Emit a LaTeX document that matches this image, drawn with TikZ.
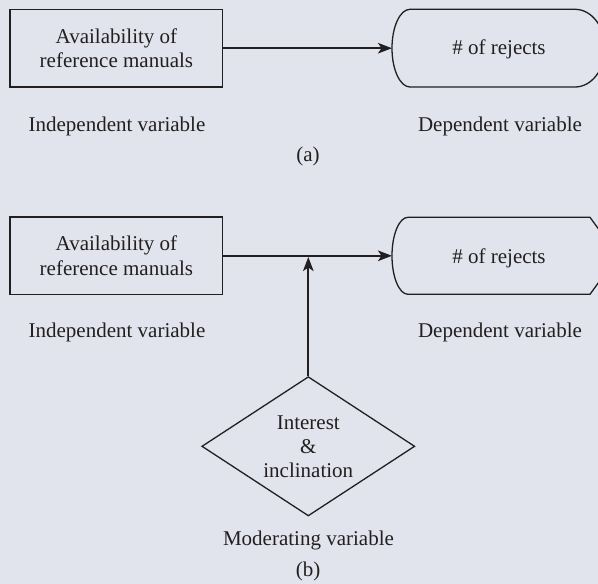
\documentclass[tikz,border=0pt]{standalone}
\usepackage{fontspec}
\setmainfont{Liberation Serif}
\usetikzlibrary{arrows.meta,shapes.geometric}
\definecolor{bg}{RGB}{225,228,236}
\definecolor{ink}{RGB}{35,31,32}
\begin{document}
\begin{tikzpicture}[x=1pt,y=-1pt,
  every node/.style={font=\fontsize{21}{24.4}\selectfont, text=ink},
  box/.style={draw=ink,line width=1.3pt,minimum width=212.7pt,minimum height=77.7pt,align=center,inner sep=0pt},
  lbl/.style={inner sep=0pt,anchor=base},
  conn/.style={draw=ink,line width=2.3pt,-{Stealth[length=14pt,width=10.5pt,inset=3.5pt]}},
  outline/.style={draw=ink,line width=1.3pt},
  modbox/.style={draw=ink,line width=1.3pt,diamond,shape aspect=1.53,minimum width=213pt,minimum height=139.3pt,inner sep=0pt,align=center,font=\fontsize{21}{24}\selectfont},
  ]
\fill[bg] (0,0) rectangle (598,584);
\useasboundingbox (0,0) rectangle (598,584);

% ---------- (a) ----------
\node[box] (A1) at (116.4,48.2) {Availability of\\reference manuals};
\draw[outline] (410,9.3) -- (575,9.3)
  arc[start angle=90,end angle=-90,x radius=30pt,y radius=38.85pt]
  -- (410,87) arc[start angle=270,end angle=90,x radius=18pt,y radius=38.85pt] -- cycle;
\coordinate (R1w) at (392,48.2);
\node (R1) at (499,49.5) {\# of rejects};
\draw[conn] (A1.east) -- (R1w);
\node[lbl] (ia) at (117,131) {Independent variable};
\node[lbl] (da) at (500,131) {Dependent variable};
\node[lbl] (capa) at (308,161) {(a)};

% ---------- (b) ----------
\node[box] (B1) at (116.4,255.8) {Availability of\\reference manuals};
\draw[outline] (408,217.3) -- (590,217.3) -- (618,255.8) -- (590,294.3)
  -- (408,294.3) arc[start angle=270,end angle=90,x radius=16pt,y radius=38.5pt] -- cycle;
\coordinate (R2w) at (392,255.8);
\node (R2) at (499,258) {\# of rejects};
\draw[conn] (B1.east) -- (R2w);
\node[lbl] (ib) at (117,337.5) {Independent variable};
\node[lbl] (db) at (500,337.5) {Dependent variable};

\node[modbox] (D) at (308.3,446.3) {Interest\\\&\\inclination};
\coordinate (J) at (308.3,257);
\draw[conn] (D.north) -- (J);
\node[lbl] (mv) at (308.5,545) {Moderating variable};
\node[lbl] (capb) at (308,576.5) {(b)};
\end{tikzpicture}
\end{document}
